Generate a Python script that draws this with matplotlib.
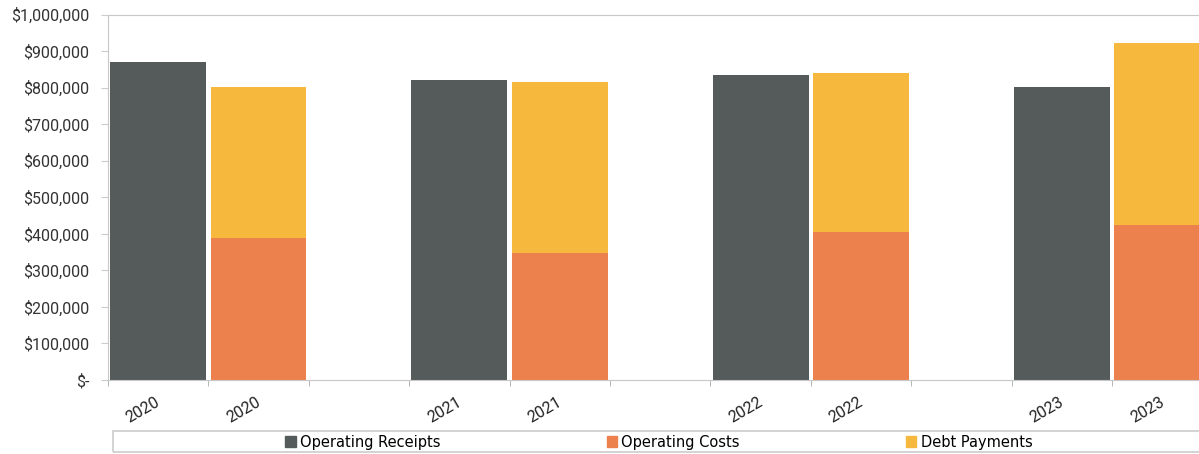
import matplotlib.pyplot as plt
from matplotlib.patches import Patch, Rectangle
from matplotlib.ticker import FuncFormatter

years = ["2020", "2021", "2022", "2023"]
receipts = [871000, 821000, 834000, 801000]
op_costs = [388000, 348000, 406000, 423000]
debt_payments = [413000, 467000, 434000, 500000]

c_receipts = "#555a5a"
c_costs = "#ec814d"
c_debt = "#f6b83d"

plt.rcParams["font.family"] = ["Roboto", "DejaVu Sans"]

fig = plt.figure(figsize=(11.99, 4.54), dpi=100)
ax = fig.add_axes([0.090, 0.163, 1.005, 0.805])

# each year takes three slots: receipts, costs+debt, empty
rec_x = [3 * i for i in range(len(years))]
cost_x = [3 * i + 1 for i in range(len(years))]
w = 0.955

ax.bar(rec_x, receipts, width=w, color=c_receipts, label="Operating Receipts")
ax.bar(cost_x, op_costs, width=w, color=c_costs, label="Operating Costs")
ax.bar(cost_x, debt_payments, width=w, bottom=op_costs, color=c_debt,
       label="Debt Payments")

ax.set_xlim(-0.5, 3 * len(years) - 0.5)
ax.set_ylim(0, 1000000)
ax.set_yticks(range(0, 1000001, 100000))
ax.yaxis.set_major_formatter(FuncFormatter(
    lambda v, p: "$-" if v == 0 else "${:,.0f}".format(v)))

# rotated year labels sit a bit left of the bar centres
ticks = []
labels = []
for i, y in enumerate(years):
    ticks += [rec_x[i] - 0.15, cost_x[i] - 0.15]
    labels += [y, y]
ax.set_xticks(ticks)
ax.set_xticklabels(labels, rotation=30, ha="center", fontsize=11.5, color="#222222")
ax.tick_params(axis="x", length=0, pad=10.5)
ax.set_xticks([x - 0.5 for x in range(3 * len(years) + 1)], minor=True)
ax.tick_params(axis="x", which="minor", length=4, color="#aaaaaa", direction="out")

ax.tick_params(axis="y", labelsize=11.5, labelcolor="#333333", length=5,
               color="#cccccc", pad=8.5)

for s in ["left", "top", "bottom"]:
    ax.spines[s].set_color("#c8c8c8")
ax.spines["right"].set_visible(False)

# legend box along the bottom
fig.patches.append(Rectangle((113 / 1199, 2 / 454), 1.0, 21 / 454,
                             transform=fig.transFigure, fill=False,
                             edgecolor="#cccccc", linewidth=1.2))
handles = [Patch(color=c_receipts), Patch(color=c_costs), Patch(color=c_debt)]
fig.legend(handles, ["Operating Receipts", "Operating Costs", "Debt Payments"],
           loc="center", bbox_to_anchor=(659 / 1199, 12 / 454), ncol=3,
           frameon=False, handlelength=0.7, handleheight=0.7, handletextpad=0.3,
           columnspacing=11.4,
           prop={"family": ["Liberation Sans Narrow", "DejaVu Sans"], "size": 10.5})

fig.savefig("out.png", dpi=100)
